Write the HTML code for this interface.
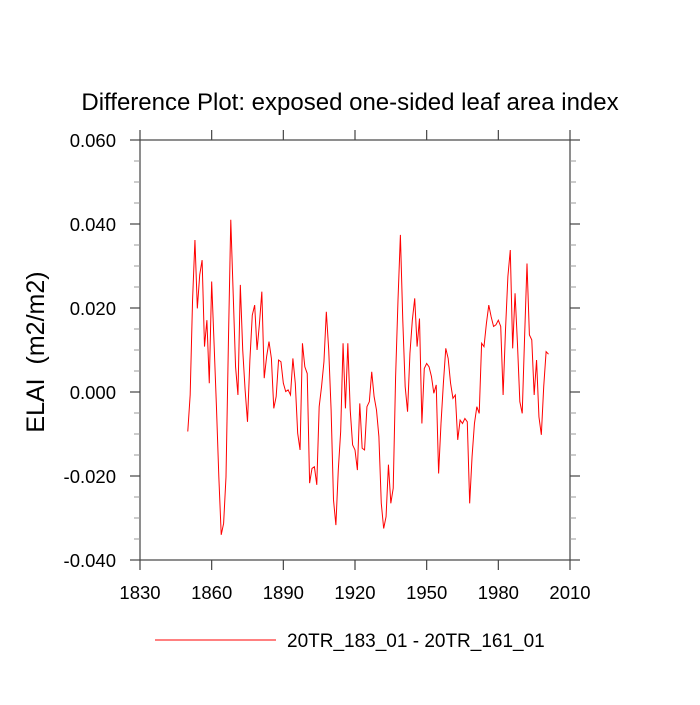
<!DOCTYPE html>
<html><head><meta charset="utf-8"><style>
body{margin:0;background:#fff;}
svg text{font-family:"Liberation Sans",sans-serif;fill:#000;}
</style></head><body>
<svg id="chart" width="700" height="700" xmlns="http://www.w3.org/2000/svg">
<rect width="700" height="700" fill="#fff"/>
<text x="350" y="110" font-size="24" text-anchor="middle">Difference Plot: exposed one-sided leaf area index</text>
<text transform="translate(44,352) rotate(-90)" font-size="25" text-anchor="middle">ELAI&#160; (m2/m2)</text>
<g id="axes"></g>
<g id="series"></g>
<line x1="155" y1="640" x2="276" y2="640" stroke="#f00" stroke-width="1"/>
<text x="287" y="647" font-size="19">20TR_183_01 - 20TR_161_01</text>
</svg>
<script>
const startYear = 1850;
const values = [-0.0094,-0.0007,0.0219,0.0362,0.0199,0.0279,0.0314,0.0108,0.0171,0.0021,0.0263,0.0116,-0.0035,-0.0202,-0.0340,-0.0313,-0.0202,0.0116,0.0410,0.0235,0.0060,-0.0007,0.0255,0.0100,0.0005,-0.0071,0.0076,0.0183,0.0207,0.0100,0.0163,0.0239,0.0033,0.0084,0.0120,0.0080,-0.0039,-0.0011,0.0076,0.0072,0.0021,0.0001,0.0005,-0.0007,0.0080,0.0021,-0.0098,-0.0138,0.0116,0.0060,0.0044,-0.0217,-0.0182,-0.0178,-0.0221,-0.0035,0.0013,0.0072,0.0191,0.0100,-0.0043,-0.0257,-0.0317,-0.0186,-0.0094,0.0116,-0.0039,0.0116,-0.0043,-0.0126,-0.0138,-0.0186,-0.0027,-0.0134,-0.0138,-0.0035,-0.0023,0.0048,
-0.0011,-0.0043,-0.0106,-0.0265,-0.0325,-0.0297,-0.0173,-0.0265,-0.0229,0.0037,0.0219,0.0374,0.0171,0.0013,-0.0047,0.0092,0.0171,0.0223,0.0108,0.0175,-0.0075,0.0056,0.0068,0.0060,0.0037,-0.0003,0.0017,-0.0194,-0.0075,0.0021,0.0104,0.0080,0.0021,-0.0015,-0.0007,-0.0114,-0.0067,-0.0075,-0.0063,-0.0071,-0.0265,-0.0154,-0.0075,-0.0035,-0.0051,0.0116,0.0108,0.0163,0.0207,0.0179,0.0156,0.0160,0.0171,0.0156,-0.0007,0.0148,0.0275,0.0338,0.0104,0.0235,0.0116,-0.0023,-0.0051,0.0132,0.0306,0.0136,0.0124,-0.0007,0.0076,-0.0059,-0.0102,0.0013,0.0096,0.0090];
const xTicks = [1830,1860,1890,1920,1950,1980,2010];
const yTicks = [-0.04,-0.02,0,0.02,0.04,0.06];
const yTickLabels = ["-0.040","-0.020","0.000","0.020","0.040","0.060"];
const yMinor = [-0.035,-0.03,-0.025,-0.015,-0.01,-0.005,0.005,0.01,0.015,0.025,0.03,0.035,0.045,0.05,0.055];

const L=140,R=570,T=140,B=560;
const X=v=>L+(v-1830)/(2010-1830)*(R-L);
const Y=v=>B-(v+0.04)/0.1*(B-T);
const NS="http://www.w3.org/2000/svg";
const ax=document.getElementById('axes');
function mk(tag,attrs,parent){const e=document.createElementNS(NS,tag);for(const k in attrs)e.setAttribute(k,attrs[k]);parent.appendChild(e);return e;}
const frame=mk('rect',{x:L,y:T,width:R-L,height:B-T,fill:'none',stroke:'#444','stroke-width':1.2},ax);


xTicks.forEach(t=>{
  const x=X(t);
  const a=mk('line',{x1:x,y1:B,x2:x,y2:B+10,stroke:'#444','stroke-width':1.2},ax);
  
  
  const b=mk('line',{x1:x,y1:T,x2:x,y2:T-10,stroke:'#444','stroke-width':1.2},ax);
  
  
  const tx=mk('text',{x:x,y:B+39,'font-size':18.5,'text-anchor':'middle'},ax);
  tx.textContent=t;
  
  
});
yTicks.forEach((t,i)=>{
  const y=Y(t);
  const a=mk('line',{x1:L,y1:y,x2:L-10,y2:y,stroke:'#444','stroke-width':1.2},ax);
  
  
  const b=mk('line',{x1:R,y1:y,x2:R+10,y2:y,stroke:'#444','stroke-width':1.2},ax);
  
  
  const tx=mk('text',{x:L-24,y:y+7,'font-size':18.5,'text-anchor':'end'},ax);
  tx.textContent=yTickLabels[i];
  
  
});
yMinor.forEach(t=>{
  const y=Y(t);
  const a=mk('line',{x1:L,y1:y,x2:L-6,y2:y,stroke:'#999','stroke-width':1},ax);
  
  
  const b=mk('line',{x1:R,y1:y,x2:R+6,y2:y,stroke:'#999','stroke-width':1},ax);
  
  
});
const pts=values.map((v,i)=>X(startYear+i).toFixed(2)+','+Y(v).toFixed(2)).join(' ');
const pl=mk('polyline',{points:pts,fill:'none',stroke:'#f00','stroke-width':1},document.getElementById('series'));


</script>
</body></html>
